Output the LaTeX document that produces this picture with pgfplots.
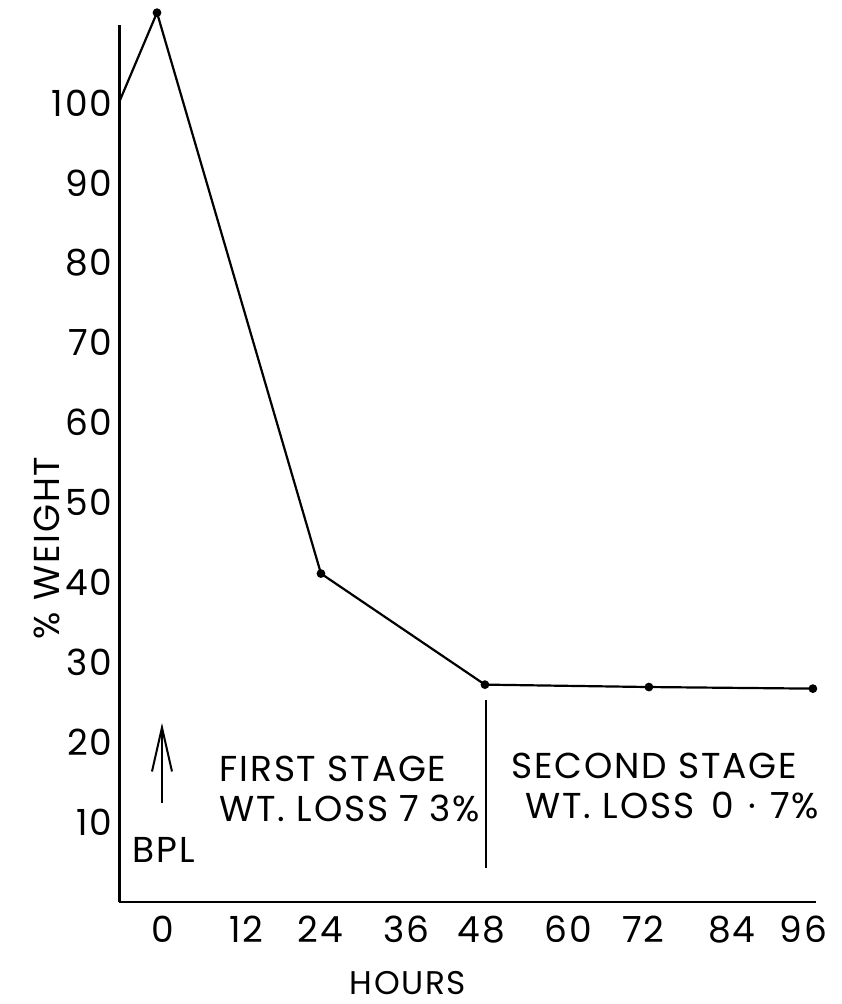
\documentclass[border=0pt]{standalone}
\usepackage{fontspec}
\setmainfont{Poppins}[LetterSpace=5]
\usepackage{pgfplots}
\pgfplotsset{compat=1.18}
\usetikzlibrary{arrows.meta}
\begin{document}
\begin{tikzpicture}
\begin{axis}[
  scale only axis,
  width=174.1pt, height=219.25pt,
  xmin=-5.49, xmax=96.44,
  ymin=0, ymax=109.76,
  axis x line*=bottom,
  axis y line*=left,
  axis line style={line width=0.65pt},
  major tick length=0pt,
  clip=false,
  /pgf/number format/assume math mode=true,
  xtick={0.92,13.1,23.9,36.5,47.5,60.2,71.2,84.1,94.6},
  xticklabels={0,12,24,36,48,60,72,84,96},
  ytick={10,20,30,40,50,60,70,80,90,100},
  yticklabels={10,20,30,40,50,60,70,80,90,100},
  tick label style={font=\fontsize{9}{10}\selectfont},
  xticklabel style={anchor=base, inner sep=0pt, yshift=-10.2pt},
  yticklabel style={anchor=east, inner sep=0pt, xshift=-1.6pt},
]
\addplot[black, line width=0.55pt, mark=*, mark size=0.8pt, mark indices={2,3,4,5,6}]
  coordinates {(-5.49,100.2) (0,111.3) (24,41.1) (48,27.2) (72,26.9) (96,26.7)};
\draw[line width=0.55pt] (axis cs:48.2,25.3) -- (axis cs:48.2,4.26);
\draw[line width=0.5pt, -{Straight Barb[length=11pt,width=5pt]}] (axis cs:0.73,12.4) -- (axis cs:0.73,22.4);
\node[anchor=base west, inner sep=0pt, font=\fontsize{9}{10}\selectfont] at (axis cs:9.07,15.02) {FIRST STAGE};
\node[anchor=base west, inner sep=0pt, font=\fontsize{9}{10}\selectfont] at (axis cs:9.07,10.01) {WT. LOSS 7\hspace{2.6pt}3\%};
\node[anchor=base west, inner sep=0pt, font=\fontsize{9}{10}\selectfont] at (axis cs:51.76,15.39) {SECOND STAGE};
\node[anchor=base west, inner sep=0pt, font=\fontsize{9}{10}\selectfont] at (axis cs:53.86,10.39) {WT. LOSS\hspace{1.5pt} 0\hspace{3.5pt}·\hspace{3.5pt}7\%};
\node[anchor=base west, inner sep=0pt, font=\fontsize{9}{10}\selectfont] at (axis cs:-3.66,4.88) {BPL};
\node[anchor=base, inner sep=0pt, font=\fontsize{8.2}{9}\selectfont] at (axis cs:36.73,-11.64) {HOURS};
\node[rotate=90, inner sep=0pt, font=\fontsize{9}{10}\selectfont] at (axis cs:-16.1,44.3) {\% WEIGHT};
\coordinate (bl) at (axis cs:-22.98,-12.77);
\coordinate (tr) at (axis cs:100.25,112.89);
\end{axis}
\path (bl) rectangle (tr);
\end{tikzpicture}
\end{document}
